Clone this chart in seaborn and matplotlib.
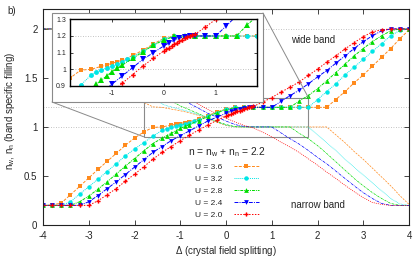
import numpy as np
import pandas as pd
import matplotlib
matplotlib.use("Agg")
import matplotlib.pyplot as plt
import seaborn as sns
from matplotlib.patches import Rectangle, ConnectionPatch
from matplotlib.ticker import FormatStrFormatter

sns.set_style("ticks")
plt.rcParams["font.family"] = ["Liberation Sans", "DejaVu Sans"]
plt.rcParams["mathtext.default"] = "regular"
plt.rcParams["axes.unicode_minus"] = False

N_TOTAL = 2.2

# crystal field splitting grid shared by all curves
delta = np.round(np.arange(-4.0, 4.01, 0.2), 1)

u_values = [3.6, 3.2, 2.8, 2.4, 2.0]

# wide band filling n_w on the 0.2 grid
nw_u36 = [0.20, 0.203, 0.225, 0.308, 0.393, 0.480, 0.567, 0.648, 0.730, 0.813,
          0.887, 0.948, 0.995, 1.000, 1.018, 1.035, 1.055, 1.083, 1.115, 1.152,
          1.185, 1.199, 1.20, 1.20, 1.20, 1.20, 1.20, 1.20, 1.20, 1.20,
          1.20, 1.20, 1.28, 1.36, 1.45, 1.53, 1.62, 1.71, 1.80, 1.90, 1.99]
nw_u32 = [0.20, 0.20, 0.20, 0.237, 0.315, 0.390, 0.467, 0.545, 0.625, 0.705,
          0.775, 0.840, 0.905, 0.965, 0.995, 1.020, 1.045, 1.075, 1.108, 1.145,
          1.182, 1.199, 1.20, 1.20, 1.20, 1.20, 1.20, 1.20, 1.20, 1.20,
          1.28, 1.36, 1.44, 1.53, 1.61, 1.69, 1.77, 1.85, 1.93, 1.985, 2.00]
nw_u28 = [0.20, 0.20, 0.20, 0.20, 0.237, 0.295, 0.365, 0.440, 0.520, 0.600,
          0.678, 0.755, 0.830, 0.885, 0.935, 0.985, 1.025, 1.065, 1.105, 1.145,
          1.175, 1.197, 1.20, 1.20, 1.20, 1.20, 1.20, 1.20, 1.265, 1.32,
          1.39, 1.47, 1.555, 1.64, 1.725, 1.80, 1.87, 1.93, 1.98, 2.00, 2.00]
nw_u24 = [0.20, 0.20, 0.20, 0.20, 0.20, 0.237, 0.300, 0.370, 0.440, 0.515,
          0.590, 0.665, 0.740, 0.800, 0.860, 0.910, 0.960, 1.010, 1.060, 1.100,
          1.140, 1.175, 1.195, 1.20, 1.20, 1.20, 1.26, 1.32, 1.375, 1.44,
          1.51, 1.575, 1.65, 1.725, 1.80, 1.87, 1.93, 1.98, 2.00, 2.00, 2.00]
nw_u20 = [0.20, 0.20, 0.20, 0.20, 0.20, 0.20, 0.247, 0.308, 0.372, 0.447,
          0.518, 0.593, 0.670, 0.740, 0.800, 0.860, 0.916, 0.968, 1.020, 1.066,
          1.110, 1.150, 1.185, 1.210, 1.253, 1.300, 1.355, 1.405, 1.460, 1.525,
          1.590, 1.660, 1.725, 1.795, 1.860, 1.920, 1.970, 1.990, 2.00, 2.00, 2.00]

# extra points where the calculation was refined
fine_x_u36 = [-1.1, -0.9]
fine_y_u36 = [1.026, 1.045]
fine_x_u32 = [-1.3, -1.1, -0.9, -0.7]
fine_y_u32 = [0.983, 1.008, 1.032, 1.060]
fine_x_u28 = [-1.3, -1.1, -0.9]
fine_y_u28 = [0.910, 0.960, 1.005]
fine_x_u24 = [0.1, 0.3, 0.5]
fine_y_u24 = [1.158, 1.187, 1.199]
fine_x_u20 = [0.05, 0.1, 0.15, 0.25, 0.3, 0.35, 0.45, 0.5, 0.55]
fine_y_u20 = [1.120, 1.130, 1.140, 1.158, 1.167, 1.176, 1.192, 1.199, 1.205]

nw_all = [nw_u36, nw_u32, nw_u28, nw_u24, nw_u20]
fx_all = [fine_x_u36, fine_x_u32, fine_x_u28, fine_x_u24, fine_x_u20]
fy_all = [fine_y_u36, fine_y_u32, fine_y_u28, fine_y_u24, fine_y_u20]

frames = []
for u, nw, fx, fy in zip(u_values, nw_all, fx_all, fy_all):
    frames.append(pd.DataFrame({"U": u,
                                "delta": np.concatenate([delta, fx]),
                                "nw": np.concatenate([nw, fy])}))
df = pd.concat(frames).sort_values(["U", "delta"]).reset_index(drop=True)
df["nn"] = N_TOTAL - df["nw"]

colors = {3.6: "#ff8a1c", 3.2: "#00e6e6", 2.8: "#00dd00", 2.4: "#0000ff", 2.0: "#ff0000"}
markers = {3.6: "s", 3.2: "o", 2.8: "^", 2.4: "v", 2.0: "P"}
msizes = {3.6: 3.0, 3.2: 3.2, 2.8: 3.4, 2.4: 3.4, 2.0: 3.0}
lstyles = {3.6: (0, (3, 1.5)), 3.2: (0, (1, 1)), 2.8: (0, (3, 1, 1, 1)),
           2.4: (0, (4, 1.2, 1, 1.2)), 2.0: (0, (1.5, 1.5))}

fig = plt.figure(figsize=(4.15, 2.58), dpi=100)
ax = fig.add_axes([43 / 415, 33 / 258, 366 / 415, 215.7 / 258])

for yl in [1.0, 1.2, 2.0]:
    ax.axhline(yl, color="#b0b0b0", lw=0.6, ls=(0, (1, 2)), zorder=0)

# narrow band: thin lines, no markers
for u in u_values:
    sub = df[df["U"] == u]
    sns.lineplot(data=sub, x="delta", y="nn", ax=ax, color=colors[u],
                 linestyle=lstyles[u], lw=0.5, errorbar=None)

# wide band: with markers
for u in u_values:
    sub = df[df["U"] == u]
    sns.lineplot(data=sub, x="delta", y="nw", ax=ax, color=colors[u],
                 linestyle=lstyles[u], lw=0.7, marker=markers[u],
                 markersize=msizes[u], markeredgewidth=0, markeredgecolor=colors[u],
                 errorbar=None, label=f"U = {u:.1f}")

ax.set_xlim(-4, 4)
ax.set_ylim(0, 2.2)
ax.set_xticks(range(-4, 5))
ax.set_yticks([0, 0.5, 1, 1.5, 2])
ax.yaxis.set_major_formatter(FormatStrFormatter("%g"))
ax.tick_params(direction="in", top=True, right=True, length=3.5, width=0.6,
               labelsize=7, pad=4)
for s in ax.spines.values():
    s.set_linewidth(0.8)
    s.set_color("#222222")

ax.set_xlabel(r"$\Delta$ (crystal field splitting)", fontsize=7)
ax.set_ylabel(r"n$_w$, n$_n$ (band specific filling)", fontsize=7)
ax.xaxis.set_label_coords(0.5, -0.088)
ax.yaxis.set_label_coords(-0.071, 0.53)

ax.text(1.9, 1.89, "wide band", ha="center", va="center", fontsize=7)
ax.text(2.02, 0.2, "narrow band", ha="center", va="center", fontsize=7)
fig.text(7 / 415, 1 - 11 / 258, "b)", ha="left", va="center", fontsize=7)

handles, labels = ax.get_legend_handles_labels()
ax.legend(handles, labels, title=r"n = n$_w$ + n$_n$ = 2.2",
          loc="upper left", bbox_to_anchor=(188 / 415, 1 - 145 / 258),
          bbox_transform=fig.transFigure, frameon=False, markerfirst=False,
          fontsize=6, title_fontsize=7.4, handlelength=2.9, handletextpad=1.4,
          labelspacing=0.5, borderpad=0, borderaxespad=0)

# zoom box and inset frame
ax.add_patch(Rectangle((-1.8, 0.9), 3.6, 0.4, fill=False, ec="#8a8a8a", lw=0.8, zorder=1))
frame = Rectangle((52 / 415, 1 - 102 / 258), 211 / 415, 89 / 258,
                  transform=fig.transFigure, facecolor="white", edgecolor="#8a8a8a",
                  lw=0.8, zorder=2)
fig.add_artist(frame)
for fxy, dxy in [((52 / 415, 1 - 102 / 258), (-1.8, 0.9)),
                 ((263 / 415, 1 - 13 / 258), (1.8, 1.3))]:
    con = ConnectionPatch(xyA=fxy, coordsA="figure fraction", xyB=dxy,
                          coordsB=ax.transData, color="#8a8a8a", lw=0.7)
    con.set_zorder(1)
    fig.add_artist(con)

axin = fig.add_axes([70.2 / 415, 1 - 86 / 258, 187.1 / 415, 66.7 / 258])
axin.set_zorder(3)
for yl in [1.0, 1.2]:
    axin.axhline(yl, color="#b0b0b0", lw=0.6, ls=(0, (1, 2)), zorder=0)
for u in u_values:
    sub = df[df["U"] == u]
    sns.lineplot(data=sub, x="delta", y="nw", ax=axin, color=colors[u],
                 linestyle=lstyles[u], lw=0.7, marker=markers[u],
                 markersize=msizes[u] + 0.3, markeredgewidth=0,
                 markeredgecolor=colors[u], errorbar=None, legend=False)
axin.set_xlim(-1.8, 1.8)
axin.set_ylim(0.9, 1.3)
axin.set_xticks([-1, 0, 1])
axin.set_yticks([0.9, 1.0, 1.1, 1.2, 1.3])
axin.xaxis.set_major_formatter(FormatStrFormatter("%g"))
axin.yaxis.set_major_formatter(FormatStrFormatter("%g"))
axin.tick_params(direction="in", top=True, right=True, length=2.5, width=0.6,
                 labelsize=5, pad=3)
axin.set_xlabel("")
axin.set_ylabel("")
for s in axin.spines.values():
    s.set_linewidth(1.0)
    s.set_color("black")

fig.savefig("out.png", dpi=100)
